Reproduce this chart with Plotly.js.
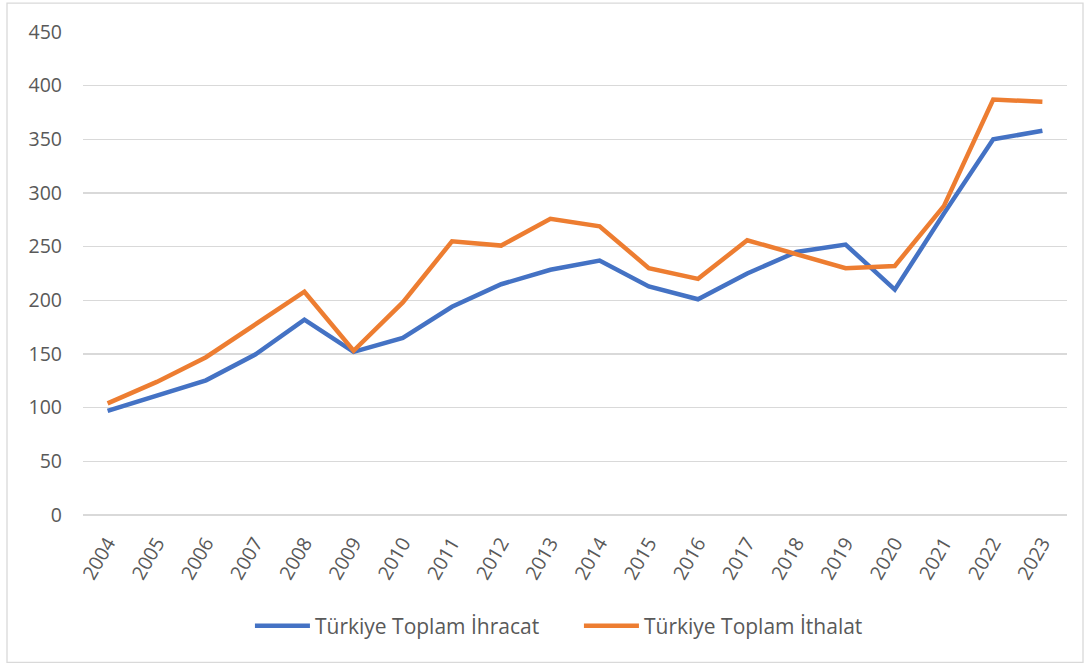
<!DOCTYPE html>
<html>
<head>
<meta charset="utf-8">
<script src="https://cdn.plot.ly/plotly-3.0.1.min.js"></script>
<style>html,body{margin:0;padding:0;background:#fff;}#chart{width:1089px;height:668px;}</style>
</head>
<body>
<div id="chart"></div>
<script>
const years = ["2004","2005","2006","2007","2008","2009","2010","2011","2012","2013","2014","2015","2016","2017","2018","2019","2020","2021","2022","2023"];
const ihracat = [97, 111, 125.5, 149.5, 182, 152, 165, 194, 215, 228.5, 237, 213, 201, 225, 245, 252, 210, 281, 350, 358];
const ithalat = [104, 124, 147, 177, 208, 153, 198, 255, 251, 276, 269, 230, 220, 256, 243, 230, 232, 288, 387, 385];
const yTicks = [0, 50, 100, 150, 200, 250, 300, 350, 400, 450];
const seriesNames = ["Türkiye Toplam İhracat", "Türkiye Toplam İthalat"];

const font = {family: "Open Sans, sans-serif", size: 19.5, color: "#595959"};
const legendFont = {family: "Open Sans, sans-serif", size: 21, color: "#595959"};

const traces = [
  {x: years, y: ihracat, name: seriesNames[0], type: "scatter", mode: "lines",
   line: {color: "#4472C4", width: 4.5}},
  {x: years, y: ithalat, name: seriesNames[1], type: "scatter", mode: "lines",
   line: {color: "#ED7D31", width: 4.5}}
];

const layout = {
  width: 1089, height: 668,
  margin: {l: 83, r: 22, t: 32, b: 152.5},
  paper_bgcolor: "#ffffff", plot_bgcolor: "#ffffff",
  font: font,
  showlegend: true,
  legend: {orientation: "h", x: 0.504, xanchor: "center", y: -0.23, yanchor: "middle",
           font: legendFont, itemwidth: 55, entrywidth: 259, traceorder: "normal"},
  xaxis: {type: "category", range: [-0.5, 19.5], showgrid: false, zeroline: false,
          showline: false, ticks: "", tickangle: -60, tickfont: font,
          ticklabelstandoff: 12, fixedrange: true},
  yaxis: {range: [0, 450], tickvals: yTicks, ticktext: yTicks.map(String),
          showgrid: true, gridcolor: "#d9d9d9", gridwidth: 1.3,
          zeroline: true, zerolinecolor: "#d9d9d9", zerolinewidth: 1.3,
          showline: false, ticks: "", tickfont: font, ticklabelstandoff: 20, fixedrange: true},
  shapes: [{type: "rect", xref: "paper", yref: "paper",
            x0: (7 - 83) / 984, x1: (1083 - 83) / 984,
            y0: (515.5 - 663) / 483.5, y1: (515.5 - 3) / 483.5,
            line: {color: "#d9d9d9", width: 1.3}, fillcolor: "rgba(0,0,0,0)", layer: "below"}]
};

Plotly.newPlot("chart", traces, layout, {displayModeBar: false, staticPlot: true});
</script>
</body>
</html>
